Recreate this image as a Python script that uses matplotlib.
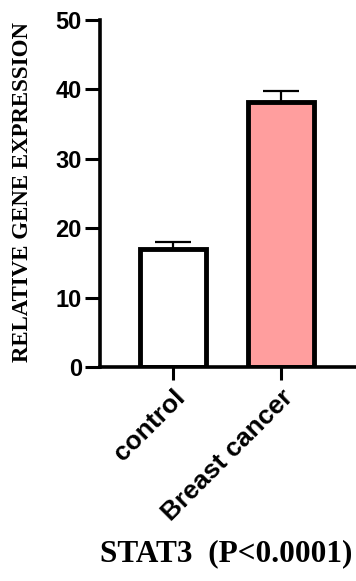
import matplotlib
matplotlib.use('Agg')
import matplotlib.pyplot as plt

# 数据
groups = ['control', 'Breast cancer']
means = [17.0, 38.2]
errs = [1.0, 1.6]
bar_colors = ['white', '#ff9e9e']
yticks = [0, 10, 20, 30, 40, 50]

fig = plt.figure(figsize=(3.56, 5.81), dpi=100)
ax = fig.add_axes([100/356, 214/581, 255/356, 347/581])

x = range(len(groups))
ax.bar(x, means, width=0.61, color=bar_colors, edgecolor='black', linewidth=3.5, zorder=2)
ax.errorbar(x, means, yerr=[[0]*len(errs), errs], fmt='none', ecolor='black',
            elinewidth=1.6, capsize=13, capthick=1.6, zorder=1)

ax.set_xlim(-0.676, 1.685)
ax.set_ylim(0, 50)
ax.set_yticks(yticks)
ax.set_xticks(list(x))
ax.set_xticklabels(groups, rotation=45, ha='right', va='top', rotation_mode='anchor',
                   fontsize=19, fontweight='bold', family='Liberation Sans')
for lab in ax.get_yticklabels():
    lab.set_fontsize(17)
    lab.set_fontweight('bold')
    lab.set_family('Liberation Sans')

for s in ['top', 'right']:
    ax.spines[s].set_visible(False)
for s in ['left', 'bottom']:
    ax.spines[s].set_linewidth(2.6)
ax.tick_params(axis='y', length=11, width=2.2, pad=2)
ax.tick_params(axis='x', length=9.5, width=2.2, pad=4)

fig.text(23/356, 1 - 191.5/581, 'RELATIVE GENE EXPRESSION', rotation=90, ha='center', va='center',
         fontsize=16.5, fontweight='bold', family='Liberation Serif')
fig.text(100/356, 1 - 554/581, 'STAT3  (P<0.0001)', ha='left', va='center',
         fontsize=22.5, fontweight='bold', family='Liberation Serif')

fig.savefig('out.png', dpi=100)
